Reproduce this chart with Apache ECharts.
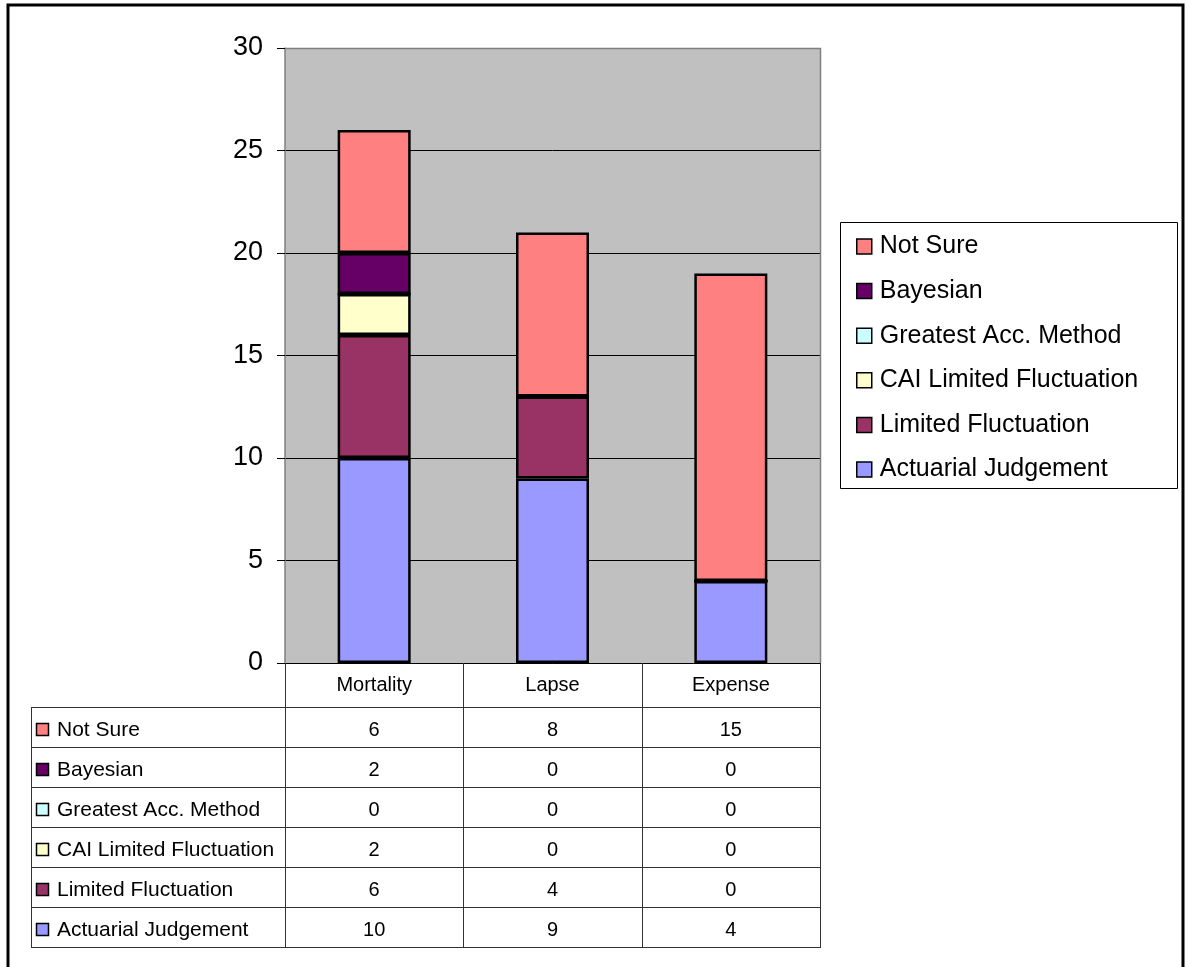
<!DOCTYPE html>
<html><head><meta charset="utf-8">
<script src="https://cdn.jsdelivr.net/npm/echarts@6/dist/echarts.min.js"></script>
<style>html,body{margin:0;padding:0;background:#fff}#c{width:1188px;height:967px}</style>
</head><body><div id="c"></div>
<script>
var categories = ['Mortality', 'Lapse', 'Expense'];
var seriesNames = ['Actuarial Judgement', 'Limited Fluctuation', 'CAI Limited Fluctuation', 'Greatest Acc. Method', 'Bayesian', 'Not Sure'];
var actuarialJudgement = [10, 9, 4];
var limitedFluctuation = [6, 4, 0];
var caiLimitedFluctuation = [2, 0, 0];
var greatestAccMethod = [0, 0, 0];
var bayesian = [2, 0, 0];
var notSure = [6, 8, 15];
var seriesColors = ['#9999FF', '#993366', '#FFFFCC', '#CCFFFF', '#660066', '#FF8080'];
var yMin = 0, yMax = 30, yStep = 5;

var seriesValues = [actuarialJudgement, limitedFluctuation, caiLimitedFluctuation, greatestAccMethod, bayesian, notSure];
var FONT = '"Liberation Sans", Arial, sans-serif';

// layout
var GL = 285, GT = 48, GW = 535, GH = 615;
var GR = GL + GW, GB = GT + GH;
var headerBottom = 707, rowH = 40, tableLeft = 31;
var nRows = seriesNames.length;
var tableBottom = headerBottom + nRows * rowH;
var colW = GW / categories.length;

var graphics = [];
// outer frame
graphics.push({type:'rect', shape:{x:8, y:5, width:1175, height:975}, style:{fill:'none', stroke:'#000', lineWidth:3}, z:100});
// plot border top & right
graphics.push({type:'polyline', shape:{points:[[GL,GT+0.5],[GR+0.5,GT+0.5],[GR+0.5,GB]]}, style:{fill:'none', stroke:'#808080', lineWidth:1.5}, z:50});
// table vertical lines
for (var c = 0; c <= categories.length; c++) {
  var x = Math.round(GL + c * colW) + 0.5;
  graphics.push({type:'line', shape:{x1:x, y1:GB, x2:x, y2:tableBottom}, style:{stroke:'#333', lineWidth:1}, z:50});
}
graphics.push({type:'line', shape:{x1:tableLeft+0.5, y1:headerBottom, x2:tableLeft+0.5, y2:tableBottom}, style:{stroke:'#333', lineWidth:1}, z:50});
for (var r = 0; r <= nRows; r++) {
  var y = Math.round(headerBottom + r * rowH) + 0.5;
  graphics.push({type:'line', shape:{x1:tableLeft, y1:y, x2:GR+1, y2:y}, style:{stroke:'#333', lineWidth:1}, z:50});
}
// table rows (top row = last series)
for (var i = 0; i < nRows; i++) {
  var si = nRows - 1 - i;
  var cy = headerBottom + i * rowH + rowH / 2 + 3;
  graphics.push({type:'rect', shape:{x:36.5, y:Math.round(cy - 7) + 0.5, width:12, height:12}, style:{fill:seriesColors[si], stroke:'#000', lineWidth:1.5}, z:60});
  graphics.push({type:'text', x:57, y:cy, style:{text:seriesNames[si], font:'21px ' + FONT, fill:'#000', textVerticalAlign:'middle', textAlign:'left'}, z:60});
  for (var c2 = 0; c2 < categories.length; c2++) {
    graphics.push({type:'text', x:GL + (c2 + 0.5) * colW, y:cy, style:{text:String(seriesValues[si][c2]), font:'20px ' + FONT, fill:'#000', textVerticalAlign:'middle', textAlign:'center'}, z:60});
  }
}
// legend box
graphics.push({type:'rect', shape:{x:840.5, y:222.5, width:337, height:266}, style:{fill:'#fff', stroke:'#000', lineWidth:1}, z:1});

var series = seriesNames.map(function (name, k) {
  return {
    name: name, type: 'bar', stack: 'total', barWidth: 73,
    data: seriesValues[k],
    itemStyle: {color: seriesColors[k], borderColor: '#000', borderWidth: 2.5},
    emphasis: {disabled: true},
    animation: false
  };
});

var chart = echarts.init(document.getElementById('c'));
chart.setOption({
  backgroundColor: '#fff',
  animation: false,
  textStyle: {fontFamily: FONT},
  grid: {left: GL, top: GT, width: GW, height: GH, containLabel: false, show: true, backgroundColor: '#C0C0C0', borderWidth: 0},
  legend: {
    orient: 'vertical', left: 851, top: 229,
    data: seriesNames.slice().reverse(),
    itemWidth: 15, itemHeight: 15, itemGap: 19.6,
    icon: 'rect',
    itemStyle: {borderColor: '#000', borderWidth: 1.5},
    textStyle: {fontSize: 25, color: '#000', fontFamily: FONT, padding: [0, 0, 0, 3]},
    selectedMode: false, z: 10
  },
  xAxis: {
    type: 'category', data: categories,
    axisLine: {show: true, lineStyle: {color: '#000', width: 1}},
    axisTick: {show: false},
    axisLabel: {fontSize: 20, color: '#000', margin: 12, fontFamily: FONT},
    splitLine: {show: false}
  },
  yAxis: {
    type: 'value', min: yMin, max: yMax, interval: yStep,
    axisLine: {show: true, lineStyle: {color: '#808080', width: 1.5}},
    axisTick: {show: true, inside: false, length: 8, lineStyle: {color: '#000', width: 1}},
    axisLabel: {fontSize: 27, color: '#000', margin: 22, fontFamily: FONT},
    splitLine: {show: true, lineStyle: {color: '#000', width: 1}}
  },
  graphic: graphics,
  series: series
});
</script></body></html>
